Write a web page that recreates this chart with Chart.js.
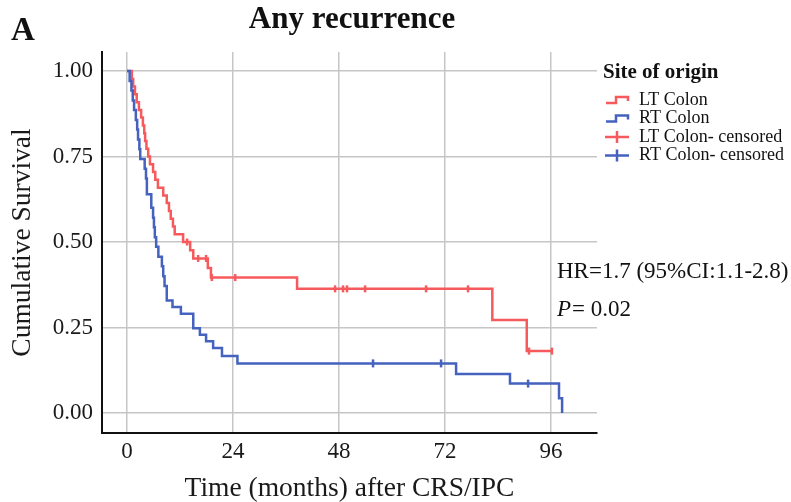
<!DOCTYPE html>
<html>
<head>
<meta charset="utf-8">
<script src="https://cdn.jsdelivr.net/npm/chart.js@4.4.1/dist/chart.umd.min.js"></script>
<style>
  html, body { margin: 0; padding: 0; background: #ffffff; }
  #wrap { width: 791px; height: 502px; position: relative; }
</style>
</head>
<body>
<div id="wrap"><canvas id="c" width="791" height="502"></canvas></div>
<script>
// ---- Data ----
const xTicks = [0, 24, 48, 72, 96];
const yTicks = [0, 0.25, 0.5, 0.75, 1.0];

const seriesLabels = ['LT Colon', 'RT Colon', 'LT Colon- censored', 'RT Colon- censored'];

// LT Colon: event times (months) and survival after each step
const ltTime = [0, 1.1, 1.4, 1.8, 2.2, 2.7, 3.2, 3.6, 3.9, 4.1, 4.4, 4.8, 5.2, 5.9, 6.4, 7.0, 8.2, 9.0, 9.5, 9.9, 10.4, 10.8, 12.7, 14.3, 15.0, 18.3, 19.0, 38.5, 82.7, 90.5, 96.2];
const ltSurv = [1.0, 0.977, 0.955, 0.932, 0.909, 0.886, 0.864, 0.841, 0.818, 0.795, 0.773, 0.750, 0.727, 0.705, 0.682, 0.659, 0.636, 0.614, 0.591, 0.568, 0.545, 0.523, 0.500, 0.476, 0.452, 0.424, 0.396, 0.363, 0.272, 0.181, 0.181];

// RT Colon
const rtTime = [0, 0.6, 1.0, 1.3, 1.6, 2.0, 2.3, 2.5, 2.8, 3.0, 4.0, 4.3, 4.5, 5.5, 5.9, 6.1, 6.3, 6.6, 7.1, 7.9, 8.2, 8.5, 9.0, 10.3, 12.2, 15.0, 16.5, 17.9, 19.5, 21.5, 25.0, 74.5, 86.7, 97.8, 98.5];
const rtSurv = [1.0, 0.971, 0.943, 0.914, 0.886, 0.857, 0.829, 0.800, 0.771, 0.743, 0.714, 0.686, 0.640, 0.600, 0.571, 0.543, 0.514, 0.486, 0.457, 0.429, 0.400, 0.371, 0.329, 0.310, 0.290, 0.248, 0.229, 0.210, 0.190, 0.167, 0.145, 0.114, 0.086, 0.043, 0.0];

// Censored observations
const ltCensorTime = [13.6, 16.1, 17.9, 19.2, 24.5, 47.1, 48.9, 49.8, 53.9, 67.7, 77.2, 91.0, 96.2];
const ltCensorSurv = [0.500, 0.452, 0.452, 0.396, 0.396, 0.363, 0.363, 0.363, 0.363, 0.363, 0.363, 0.181, 0.181];
const rtCensorTime = [55.7, 71.1, 90.8];
const rtCensorSurv = [0.145, 0.145, 0.086];

const annotLine1 = 'HR=1.7 (95%CI:1.1-2.8)';
const annotP = 'P';
const annotPValue = '= 0.02';

// ---- Styles ----
const RED = '#f65a5c';
const BLUE = '#4462be';
const GRID = '#c6c6c6';
const SERIF = "'Liberation Serif', 'Times New Roman', serif";

const toXY = (xs, ys) => xs.map((x, i) => ({ x: x, y: ys[i] }));

Chart.defaults.font.family = SERIF;
Chart.defaults.color = '#1a1a1a';

const overlay = {
  id: 'overlay',
  afterDraw(chart) {
    const ctx = chart.ctx;
    ctx.save();
    ctx.fillStyle = '#111';
    // panel letter
    ctx.font = 'bold 33px ' + SERIF;
    ctx.textAlign = 'left';
    ctx.textBaseline = 'middle';
    ctx.fillText('A', 11, 31);
    // title
    ctx.font = 'bold 31px ' + SERIF;
    ctx.textAlign = 'center';
    ctx.fillText('Any recurrence', 352, 20);

    // legend
    ctx.textAlign = 'left';
    ctx.font = 'bold 21px ' + SERIF;
    ctx.fillText('Site of origin', 603, 73);
    ctx.font = '18px ' + SERIF;
    const colors = [RED, BLUE, RED, BLUE];
    for (let i = 0; i < seriesLabels.length; i++) {
      const y = 100 + i * 18.5;
      ctx.strokeStyle = colors[i];
      ctx.lineWidth = 2.5;
      ctx.beginPath();
      if (i < 2) {
        ctx.moveTo(606, y + 3); ctx.lineTo(616, y + 3); ctx.lineTo(616, y - 3);
        ctx.lineTo(628, y - 3); ctx.lineTo(628, y + 1);
      } else {
        ctx.moveTo(605, y); ctx.lineTo(629, y);
        ctx.moveTo(617, y - 6); ctx.lineTo(617, y + 6);
      }
      ctx.stroke();
      ctx.fillStyle = '#111';
      ctx.fillText(seriesLabels[i], 639, y);
    }

    // HR annotation
    ctx.font = '23px ' + SERIF;
    ctx.fillText(annotLine1, 557, 272);
    ctx.font = 'italic 23px ' + SERIF;
    ctx.fillText(annotP, 557, 310);
    const w = ctx.measureText(annotP).width;
    ctx.font = '23px ' + SERIF;
    ctx.fillText(annotPValue, 557 + w + 1, 310);
    ctx.restore();
  }
};

new Chart(document.getElementById('c'), {
  type: 'scatter',
  data: {
    datasets: [
      { label: seriesLabels[0], data: toXY(ltTime, ltSurv), showLine: true, stepped: 'before',
        borderColor: RED, borderWidth: 2.5, pointRadius: 0, fill: false, order: 2 },
      { label: seriesLabels[1], data: toXY(rtTime, rtSurv), showLine: true, stepped: 'before',
        borderColor: BLUE, borderWidth: 2.5, pointRadius: 0, fill: false, order: 1 },
      { label: seriesLabels[2], data: toXY(ltCensorTime, ltCensorSurv), showLine: false,
        pointStyle: 'line', rotation: 90, pointRadius: 3.5, borderWidth: 2.5,
        borderColor: RED, backgroundColor: RED, order: 0 },
      { label: seriesLabels[3], data: toXY(rtCensorTime, rtCensorSurv), showLine: false,
        pointStyle: 'line', rotation: 90, pointRadius: 4, borderWidth: 2.5,
        borderColor: BLUE, backgroundColor: BLUE, order: 0 }
    ]
  },
  options: {
    responsive: false,
    animation: false,
    layout: { padding: { top: 52, right: 194, left: 0, bottom: 0 } },
    plugins: { legend: { display: false }, tooltip: { enabled: false }, title: { display: false } },
    scales: {
      x: {
        type: 'linear',
        min: -5.66,
        max: 106.4,
        afterBuildTicks: (s) => { s.ticks = xTicks.map(v => ({ value: v })); },
        afterFit: (s) => { s.height = 69; },
        grid: { color: GRID, lineWidth: 1.5, drawTicks: false },
        border: { display: true, color: '#111', width: 2 },
        ticks: { font: { size: 23 }, padding: 5, color: '#1a1a1a', callback: (v) => String(v) },
        title: { display: true, text: 'Time (months) after CRS/IPC', font: { size: 27.5 }, color: '#1a1a1a', padding: { top: 0, bottom: -3 } }
      },
      y: {
        type: 'linear',
        min: -0.0585,
        max: 1.0556,
        afterBuildTicks: (s) => { s.ticks = yTicks.map(v => ({ value: v })); },
        afterFit: (s) => { s.width = 102; },
        grid: { color: GRID, lineWidth: 1.5, drawTicks: false },
        border: { display: true, color: '#111', width: 2 },
        ticks: { font: { size: 23 }, padding: 9, color: '#1a1a1a', callback: (v) => Number(v).toFixed(2) },
        title: { display: true, text: 'Cumulative Survival', font: { size: 27.5 }, color: '#1a1a1a', padding: { top: 6, bottom: 0 } }
      }
    }
  },
  plugins: [overlay]
});
</script>
</body>
</html>
